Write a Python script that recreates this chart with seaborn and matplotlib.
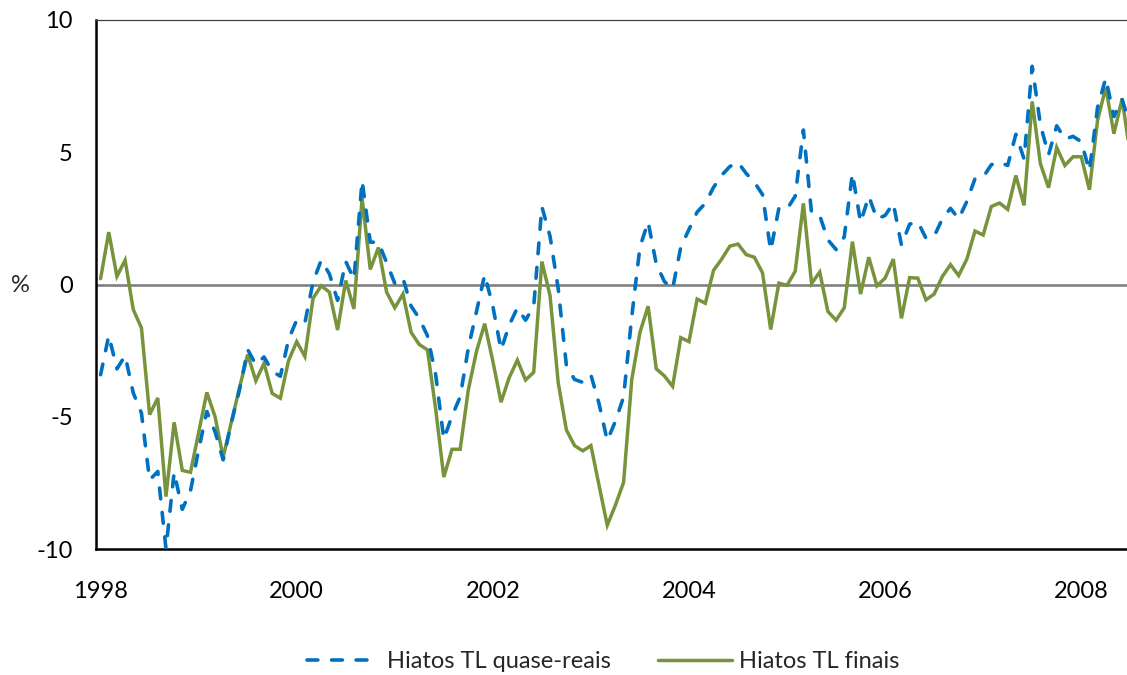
import numpy as np
import pandas as pd
import matplotlib
matplotlib.use("Agg")
import matplotlib.pyplot as plt
import seaborn as sns

# Monthly output-gap estimates, Jan 1998 onwards (%)
quase_reais = [
    -3.41, -1.93, -3.19, -2.69, -4.10, -4.86, -7.39, -7.07, -9.98, -7.10, -8.50, -7.80,
    -6.25, -4.80, -5.56, -6.63, -5.23, -3.98, -2.46, -3.03, -2.74, -3.28, -3.47, -2.08,
    -1.34, -1.45, 0.10, 0.92, 0.40, -0.60, 0.87, 0.20, 3.93, 1.60, 1.60, 0.83,
    0.04, 0.24, -0.82, -1.28, -1.94, -3.40, -5.85, -4.97, -4.25, -2.40, -1.02, 0.37,
    -0.82, -2.47, -1.54, -0.88, -1.35, -0.82, 2.94, 1.82, -0.16, -3.06, -3.59, -3.70,
    -3.42, -4.51, -5.90, -5.17, -4.25, -1.21, 1.42, 2.37, 0.77, 0.11, -0.16, 1.42,
    2.08, 2.74, 3.07, 3.67, 4.13, 4.46, 4.62, 4.20, 3.87, 3.40, 1.29, 2.88,
    2.85, 3.34, 5.84, 2.70, 2.60, 1.69, 1.32, 1.80, 4.20, 2.35, 3.34, 2.48,
    2.61, 3.07, 1.49, 2.28, 2.37, 1.75, 1.82, 2.48, 2.88, 2.48, 3.14, 4.00,
    4.06, 4.53, 4.62, 4.50, 5.68, 4.75, 8.25, 6.04, 4.90, 6.00, 5.50, 5.60,
    5.40, 4.30, 6.70, 7.80, 6.35, 7.00, 6.00,
]
finais = [
    0.22, 1.98, 0.31, 0.92, -0.95, -1.64, -4.92, -4.29, -8.02, -5.21, -7.03, -7.10,
    -5.60, -4.08, -4.99, -6.53, -5.20, -3.90, -2.65, -3.64, -2.98, -4.12, -4.30, -2.88,
    -2.16, -2.72, -0.52, -0.05, -0.29, -1.72, 0.15, -0.92, 3.27, 0.57, 1.40, -0.29,
    -0.88, -0.36, -1.81, -2.27, -2.47, -4.70, -7.28, -6.23, -6.23, -3.98, -2.53, -1.48,
    -2.90, -4.45, -3.52, -2.86, -3.61, -3.32, 0.87, -0.42, -3.72, -5.50, -6.09, -6.29,
    -6.09, -7.60, -9.10, -8.34, -7.48, -3.59, -1.81, -0.82, -3.19, -3.46, -3.85, -2.01,
    -2.16, -0.55, -0.71, 0.53, 0.96, 1.45, 1.53, 1.13, 1.03, 0.44, -1.70, 0.05,
    -0.03, 0.50, 3.07, 0.04, 0.47, -1.02, -1.35, -0.88, 1.62, -0.36, 1.03, -0.05,
    0.24, 0.96, -1.28, 0.26, 0.24, -0.58, -0.36, 0.30, 0.75, 0.34, 0.96, 2.02,
    1.87, 2.95, 3.08, 2.84, 4.12, 2.99, 6.92, 4.57, 3.66, 5.18, 4.50, 4.83,
    4.83, 3.58, 6.21, 7.45, 5.70, 7.02, 4.90,
]
anos = ["1998", "2000", "2002", "2004", "2006", "2008"]
y_ticks = [-10, -5, 0, 5, 10]

serie_a = "Hiatos TL quase-reais"
serie_b = "Hiatos TL finais"

df = pd.DataFrame({
    "mes": np.arange(len(finais)),
    serie_a: quase_reais,
    serie_b: finais,
})

sns.set_theme(style="white")
plt.rcParams["font.family"] = ["Lato", "DejaVu Sans"]
plt.rcParams["font.size"] = 17

W, H = 1127, 675
fig = plt.figure(figsize=(W / 100, H / 100), dpi=100)
ax = fig.add_axes([96.5 / W, 1 - 549 / H, 1 - 96.5 / W, (549 - 20) / H])

ax.axhline(0, color="#808080", lw=1.9, zorder=1)

sns.lineplot(data=df, x="mes", y=serie_a, ax=ax, color="#0070C0", lw=2.6,
             linestyle=(0, (3.0, 3.8)), dash_capstyle="round",
             label=serie_a, zorder=3)
sns.lineplot(data=df, x="mes", y=serie_b, ax=ax, color="#77933C", lw=2.5,
             solid_joinstyle="miter", label=serie_b, zorder=2)

ax.set_xlim(-0.5, 125.6)
ax.set_ylim(-10, 10)
ax.set_xticks(np.arange(len(anos)) * 24)
ax.set_xticklabels(anos)
ax.set_yticks(y_ticks)
ax.set_yticklabels([str(v) for v in y_ticks])
ax.tick_params(axis="both", length=0, labelsize=17, colors="black")
ax.tick_params(axis="x", pad=23)
ax.tick_params(axis="y", pad=17)
ax.set_xlabel("")
ax.set_ylabel("")

for side in ["left", "bottom"]:
    ax.spines[side].set_color("black")
    ax.spines[side].set_linewidth(1.8)
ax.spines["top"].set_color("#404040")
ax.spines["top"].set_linewidth(0.9)
ax.spines["right"].set_visible(False)

fig.text(20 / W, 1 - 286 / H, "%", ha="center", va="center", fontsize=17)

handles, labels = ax.get_legend_handles_labels()
ax.get_legend().remove()
fig.legend(handles, labels, loc="center", bbox_to_anchor=(0.535, 1 - 662 / H),
           ncol=2, frameon=False, fontsize=17, handlelength=3.1,
           handletextpad=0.3, columnspacing=2.0)

fig.savefig("out.png", dpi=100)
